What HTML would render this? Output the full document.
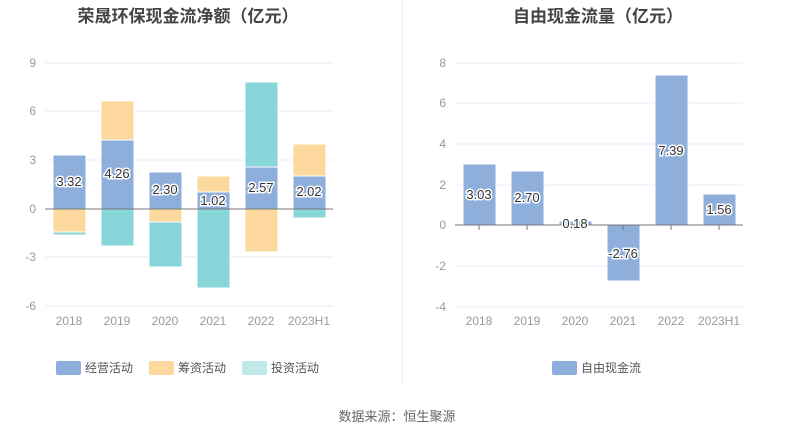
<!DOCTYPE html>
<html><head><meta charset="utf-8"><style>
body{margin:0;background:#fff;}
svg text{font-family:"Liberation Sans","Noto Sans CJK SC",sans-serif;}
</style></head><body>
<svg width="795" height="439" viewBox="0 0 795 439" xmlns="http://www.w3.org/2000/svg">
<rect width="795" height="439" fill="#fff"/>
<line x1="402.5" y1="0" x2="402.5" y2="385" stroke="#eeeeee"/>
<text x="188" y="22" font-size="17" font-weight="bold" fill="#444" text-anchor="middle">荣晟环保现金流净额（亿元）</text>
<text x="598" y="22" font-size="17" font-weight="bold" fill="#444" text-anchor="middle">自由现金流量（亿元）</text>
<g stroke="#e8ebf5">
<line x1="45" y1="63" x2="333" y2="63"/><line x1="45" y1="111" x2="333" y2="111"/><line x1="45" y1="160" x2="333" y2="160"/><line x1="45" y1="257" x2="333" y2="257"/><line x1="45" y1="306" x2="333" y2="306"/>
<line x1="455" y1="63" x2="743" y2="63"/><line x1="455" y1="103" x2="743" y2="103"/><line x1="455" y1="144" x2="743" y2="144"/><line x1="455" y1="185" x2="743" y2="185"/><line x1="455" y1="266" x2="743" y2="266"/><line x1="455" y1="307" x2="743" y2="307"/>
</g>
<g font-size="12" fill="#999" text-anchor="end">
<text x="36" y="67">9</text><text x="36" y="115">6</text><text x="36" y="164">3</text><text x="36" y="213">0</text><text x="36" y="261">-3</text><text x="36" y="310">-6</text>
<text x="446" y="67">8</text><text x="446" y="107">6</text><text x="446" y="148">4</text><text x="446" y="189">2</text><text x="446" y="229">0</text><text x="446" y="270">-2</text><text x="446" y="311">-4</text>
</g>
<g stroke="#fff" stroke-width="1">
<!-- op -->
<rect x="53" y="155" width="33" height="54" fill="#8eaedc"/>
<rect x="101" y="140" width="33" height="69" fill="#8eaedc"/>
<rect x="149" y="172" width="33" height="37" fill="#8eaedc"/>
<rect x="197" y="192" width="33" height="17" fill="#8eaedc"/>
<rect x="245" y="167" width="33" height="42" fill="#8eaedc"/>
<rect x="293" y="176" width="33" height="33" fill="#8eaedc"/>
<!-- fin -->
<rect x="53" y="209" width="33" height="23" fill="#fdd89e"/>
<rect x="101" y="101" width="33" height="39" fill="#fdd89e"/>
<rect x="149" y="209" width="33" height="13" fill="#fdd89e"/>
<rect x="197" y="176" width="33" height="16" fill="#fdd89e"/>
<rect x="245" y="209" width="33" height="43" fill="#fdd89e"/>
<rect x="293" y="144" width="33" height="32" fill="#fdd89e"/>
<!-- inv -->
<rect x="53" y="232" width="33" height="3" fill="#88d6d9"/>
<rect x="101" y="209" width="33" height="37" fill="#88d6d9"/>
<rect x="149" y="222" width="33" height="45" fill="#88d6d9"/>
<rect x="197" y="209" width="33" height="79" fill="#88d6d9"/>
<rect x="245" y="82" width="33" height="85" fill="#88d6d9"/>
<rect x="293" y="209" width="33" height="9" fill="#88d6d9"/>
<!-- right -->
<rect x="463" y="164" width="33" height="61" fill="#8eaedc"/>
<rect x="511" y="171" width="33" height="54" fill="#8eaedc"/>
<rect x="559" y="221" width="33" height="4" fill="#8eaedc"/>
<rect x="607" y="225" width="33" height="56" fill="#8eaedc"/>
<rect x="655" y="75" width="33" height="150" fill="#8eaedc"/>
<rect x="703" y="194" width="33" height="31" fill="#8eaedc"/>
</g>
<line x1="45" y1="209" x2="333" y2="209" stroke="#777"/>
<line x1="455" y1="225" x2="743" y2="225" stroke="#777"/>
<g stroke="#777"><line x1="479" y1="225" x2="479" y2="230"/><line x1="527" y1="225" x2="527" y2="230"/><line x1="575" y1="225" x2="575" y2="230"/><line x1="623" y1="225" x2="623" y2="230"/><line x1="671" y1="225" x2="671" y2="230"/><line x1="719" y1="225" x2="719" y2="230"/></g>
<g font-size="13" fill="#333" text-anchor="middle" stroke="#fff" stroke-width="3" paint-order="stroke">
<text x="69" y="186">3.32</text><text x="117" y="178">4.26</text><text x="165" y="194">2.30</text><text x="213" y="205">1.02</text><text x="261" y="192">2.57</text><text x="309" y="196">2.02</text>
<text x="479" y="199">3.03</text><text x="527" y="202">2.70</text><text x="575" y="228">0.18</text><text x="623" y="258">-2.76</text><text x="671" y="155">7.39</text><text x="719" y="214">1.56</text>
</g>
<g font-size="12" fill="#999" text-anchor="middle">
<text x="69" y="325">2018</text><text x="117" y="325">2019</text><text x="165" y="325">2020</text><text x="213" y="325">2021</text><text x="261" y="325">2022</text><text x="309" y="325">2023H1</text>
<text x="479" y="325">2018</text><text x="527" y="325">2019</text><text x="575" y="325">2020</text><text x="623" y="325">2021</text><text x="671" y="325">2022</text><text x="719" y="325">2023H1</text>
</g>
<g font-size="12" fill="#555">
<rect x="56" y="361" width="25" height="14" rx="2" fill="#8eaedc"/><text x="85" y="372">经营活动</text>
<rect x="149" y="361" width="25" height="14" rx="2" fill="#fdd89e"/><text x="178" y="372">筹资活动</text>
<rect x="242" y="361" width="25" height="14" rx="2" fill="#bfe8ea"/><text x="271" y="372">投资活动</text>
<rect x="552" y="361" width="25" height="14" rx="2" fill="#8eaedc"/><text x="581" y="372">自由现金流</text>
</g>
<text x="397" y="421" font-size="13" fill="#666" text-anchor="middle">数据来源：恒生聚源</text>
</svg>
</body></html>
